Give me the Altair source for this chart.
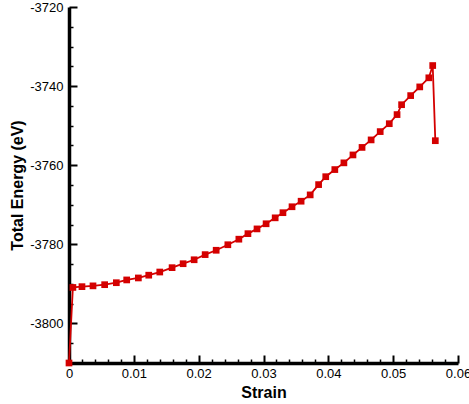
import altair as alt
import pandas as pd

strain = [0, 0.0006, 0.0020, 0.0037, 0.0055, 0.0073, 0.0089, 0.0107, 0.0123, 0.0140,
          0.0159, 0.0176, 0.0193, 0.0210, 0.0227, 0.0245, 0.0262, 0.0276, 0.0290, 0.0304,
          0.0318, 0.0330, 0.0344, 0.0358, 0.0372, 0.0385, 0.0396, 0.0410, 0.0424, 0.0438,
          0.0452, 0.0466, 0.0480, 0.0494, 0.0506, 0.0513, 0.0527, 0.0541, 0.0555, 0.0561,
          0.0565]
energy = [-3810, -3790.9, -3790.7, -3790.5, -3790.2, -3789.7, -3789.0, -3788.5, -3787.8, -3787.0,
          -3785.9, -3784.9, -3783.9, -3782.6, -3781.5, -3780.1, -3778.7, -3777.3, -3776.1, -3774.8,
          -3773.3, -3772.0, -3770.5, -3769.1, -3767.5, -3764.9, -3762.9, -3761.1, -3759.4, -3757.4,
          -3755.5, -3753.6, -3751.5, -3749.5, -3747.2, -3744.7, -3742.4, -3740.2, -3737.9, -3734.8,
          -3753.8]

x_major = [0, 0.01, 0.02, 0.03, 0.04, 0.05, 0.06]
x_minor = [0.002, 0.004, 0.006, 0.008, 0.012, 0.014, 0.016, 0.018, 0.022, 0.024, 0.026, 0.028,
           0.032, 0.034, 0.036, 0.038, 0.042, 0.044, 0.046, 0.048, 0.052, 0.054, 0.056, 0.058]
y_major = [-3800, -3780, -3760, -3740, -3720]
y_minor = [-3810, -3805, -3795, -3790, -3785, -3775, -3770, -3765, -3755, -3750, -3745,
           -3735, -3730, -3725]

RED = "#d40000"
FONT = "Liberation Sans"
W, H = 389, 356

df = pd.DataFrame({"strain": strain, "energy": energy, "idx": list(range(len(strain)))})

xs = alt.Scale(domain=[0, 0.06], nice=False, zero=False)
ys = alt.Scale(domain=[-3810, -3720], nice=False, zero=False)

base = alt.Chart(df)

line = base.mark_line(color=RED, strokeWidth=1.8).encode(
    x=alt.X("strain:Q", scale=xs, axis=alt.Axis(
        orient="bottom", values=x_major, format="~g", ticks=False, grid=False,
        domainColor="black", domainWidth=3.5, labelFont=FONT, labelFontSize=13,
        labelColor="black", labelPadding=4, labelFlush=False, title="Strain",
        titleFont=FONT, titleFontSize=16, titleFontWeight="bold", titleColor="black",
        titlePadding=4)),
    y=alt.Y("energy:Q", scale=ys, axis=alt.Axis(
        orient="left", values=y_major, labelExpr="'-' + format(abs(datum.value), 'd')",
        ticks=False, grid=False, domainColor="black", domainWidth=3.5, labelFont=FONT,
        labelFontSize=13, labelColor="black", labelPadding=6, labelFlush=False,
        title="Total Energy (eV)", titleFont=FONT, titleFontSize=16,
        titleFontWeight="bold", titleColor="black", titlePadding=4)),
    order="idx:Q",
)

points = base.mark_square(color=RED, size=45, opacity=1).encode(
    x=alt.X("strain:Q", scale=xs, axis=None),
    y=alt.Y("energy:Q", scale=ys, axis=None),
)

major_ticks = base.mark_point(opacity=0).encode(
    x=alt.X("strain:Q", scale=xs, axis=alt.Axis(
        orient="top", offset=-H, values=x_major, labels=False, domain=False, grid=False,
        ticks=True, tickSize=8, tickWidth=2, tickColor="black", title=None)),
    y=alt.Y("energy:Q", scale=ys, axis=alt.Axis(
        orient="right", offset=-W, values=y_major, labels=False, domain=False, grid=False,
        ticks=True, tickSize=8, tickWidth=2, tickColor="black", title=None)),
)

minor_ticks = base.mark_point(opacity=0).encode(
    x=alt.X("strain:Q", scale=xs, axis=alt.Axis(
        orient="top", offset=-H, values=x_minor, labels=False, domain=False, grid=False,
        ticks=True, tickSize=4, tickWidth=1.5, tickColor="black", title=None)),
    y=alt.Y("energy:Q", scale=ys, axis=alt.Axis(
        orient="right", offset=-W, values=y_minor, labels=False, domain=False, grid=False,
        ticks=True, tickSize=4, tickWidth=1.5, tickColor="black", title=None)),
)

chart = alt.layer(minor_ticks, major_ticks, line, points).resolve_axis(
    x="independent", y="independent"
).properties(
    width=W, height=H,
    autosize=alt.AutoSizeParams(type="none"),
    padding={"left": 69, "top": 7, "right": 11, "bottom": 41},
    background="white",
).configure_view(strokeWidth=0)

chart.save("out.html", embed_options={"renderer": "svg", "actions": False})
